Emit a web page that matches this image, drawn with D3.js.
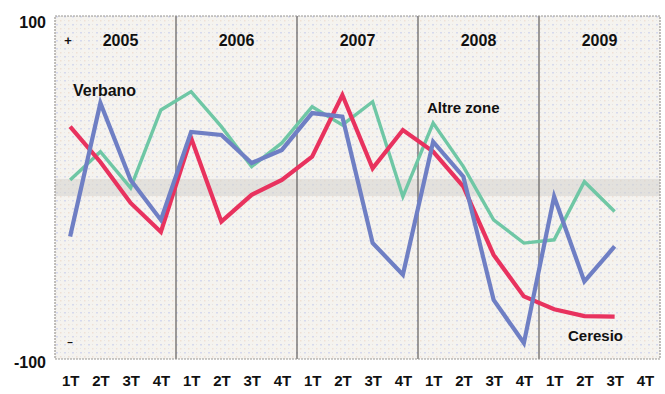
<!DOCTYPE html>
<html>
<head>
<meta charset="utf-8">
<script src="https://cdn.jsdelivr.net/npm/d3@7"></script>
<style>
  html, body { margin: 0; padding: 0; background: #ffffff; }
  svg { display: block; }
  text { font-family: "Liberation Sans", Arial, sans-serif; font-weight: bold; fill: #111; }
</style>
</head>
<body>
<svg id="chart" width="665" height="394"></svg>
<script>
// Years and quarters shown along the horizontal axis
const years = ["2005", "2006", "2007", "2008", "2009"];
const quarters = ["1T", "2T", "3T", "4T"];

// Quarterly balance values (range -100 .. 100), 2005 1T through 2009 4T
const verbano = [-28.6, 49.3, 4.4, -18.9,  32.4, 30.6, 14.3, 21.9,  43.4, 41.3, -32.3, -50.9,  26.7, 6.3, -65.5, -90.7,  -5.3, -54.8, -34.4, null];
const ceresio = [35.5, 14.9, -9.0, -25.9,  28.9, -19.9, -4.3, 4.4,  18.0, 53.9, 11.2, 33.5,  20.9, 0.5, -39.3, -63.5,  -71.0, -75.0, -75.3, null];
const altreZone = [4.4, 20.9, -0.2, 45.2,  55.9, 35.5, 12.2, 26.0,  47.1, 36.5, 50.0, -5.3,  37.6, 12.2, -18.9, -32.4,  -30.5, 3.4, -14.0, null];

const yTicks = [100, -100];

const svg = d3.select("#chart");
const plot = { left: 55, right: 660, top: 16, bottom: 359 };

const keys = [];
years.forEach(yr => quarters.forEach(q => keys.push(yr + "-" + q)));

const x = d3.scalePoint().domain(keys).range([plot.left, plot.right]).padding(0.5);
const y = d3.scaleLinear().domain([-100, 100]).range([plot.bottom, plot.top]);

// Plot background with a fine dotted screen
const defs = svg.append("defs");
const pat = defs.append("pattern")
  .attr("id", "screen").attr("width", 8).attr("height", 8)
  .attr("patternUnits", "userSpaceOnUse");
pat.append("rect").attr("width", 8).attr("height", 8).attr("fill", "#f5f3ef");
pat.append("rect").attr("x", 0).attr("y", 0).attr("width", 2).attr("height", 1.5).attr("fill", "#d6d9ee");
pat.append("rect").attr("x", 4).attr("y", 4).attr("width", 1.5).attr("height", 1.5).attr("fill", "#f0e0d4");
pat.append("rect").attr("x", 4).attr("y", 0).attr("width", 1).attr("height", 1).attr("fill", "#e3e3e3");
pat.append("rect").attr("x", 0).attr("y", 4).attr("width", 1).attr("height", 1).attr("fill", "#e6e6e6");

svg.append("rect")
  .attr("x", plot.left).attr("y", plot.top)
  .attr("width", plot.right - plot.left).attr("height", plot.bottom - plot.top)
  .attr("fill", "url(#screen)");

// Grey band around zero
svg.append("rect")
  .attr("x", plot.left).attr("y", y(5))
  .attr("width", plot.right - plot.left).attr("height", y(-5) - y(5))
  .attr("fill", "#d4d2cd").attr("opacity", 0.55);

// Year dividers
const step = x.step();
years.slice(1).forEach(yr => {
  const xv = x(yr + "-1T") - step / 2;
  svg.append("line")
    .attr("x1", xv).attr("x2", xv).attr("y1", plot.top).attr("y2", plot.bottom)
    .attr("stroke", "#6b6866").attr("stroke-width", 1.3);
});

// Plot frame
svg.append("rect")
  .attr("x", plot.left).attr("y", plot.top)
  .attr("width", plot.right - plot.left).attr("height", plot.bottom - plot.top)
  .attr("fill", "none").attr("stroke", "#9a9793")
  .attr("stroke-width", 1.2).attr("stroke-dasharray", "2,1");

// Year labels
years.forEach(yr => {
  const cx = (x(yr + "-1T") + x(yr + "-4T")) / 2;
  svg.append("text")
    .attr("x", cx + (yr === "2005" ? 5 : 0)).attr("y", 46)
    .attr("text-anchor", "middle").attr("font-size", 16)
    .text(yr);
});

// Small plus / minus marks inside the plot
svg.append("text").attr("x", 68).attr("y", 45).attr("text-anchor", "middle")
  .attr("font-size", 13).text("+");
svg.append("text").attr("x", 70).attr("y", 346).attr("text-anchor", "middle")
  .attr("font-size", 10).attr("fill", "#666").text("\u2013");

// Series lines
const line = d3.line()
  .defined(d => d.v !== null)
  .x(d => x(d.k))
  .y(d => y(d.v));

const series = [
  { name: "Altre zone", values: altreZone, color: "#6fc7a5", width: 3.4 },
  { name: "Ceresio", values: ceresio, color: "#e8325e", width: 4.2 },
  { name: "Verbano", values: verbano, color: "#6f7fc4", width: 4.2 }
];

series.forEach(s => {
  const data = keys.map((k, i) => ({ k, v: s.values[i] }));
  svg.append("path")
    .datum(data)
    .attr("fill", "none")
    .attr("stroke", s.color)
    .attr("stroke-width", s.width)
    .attr("stroke-linejoin", "miter")
    .attr("d", line);
});

// Series names
svg.append("text").attr("x", 73).attr("y", 96).attr("font-size", 16).text("Verbano");
svg.append("text").attr("x", 427).attr("y", 113).attr("font-size", 15).text("Altre zone");
svg.append("text").attr("x", 568).attr("y", 341).attr("font-size", 15).text("Ceresio");

// Vertical axis labels (plain hyphen for the negative end)
const yAxis = svg.append("g")
  .attr("transform", `translate(${plot.left - 9},0)`)
  .call(d3.axisLeft(y).tickValues(yTicks).tickSize(0).tickPadding(0).tickFormat(d => String(d)));
yAxis.select(".domain").remove();
yAxis.selectAll("text")
  .attr("font-size", 16).attr("font-family", "Liberation Sans, Arial, sans-serif")
  .attr("font-weight", "bold").attr("fill", "#111")
  .attr("dy", d => d > 0 ? "0.72em" : "0.5em");

// Quarter labels along the bottom
const xAxis = svg.append("g")
  .attr("transform", `translate(0,${plot.bottom})`)
  .call(d3.axisBottom(x).tickSize(0).tickPadding(16).tickFormat(k => k.split("-")[1]));
xAxis.select(".domain").remove();
xAxis.selectAll("text")
  .attr("font-size", 15).attr("font-family", "Liberation Sans, Arial, sans-serif")
  .attr("font-weight", "bold").attr("fill", "#111");
</script>
</body>
</html>
